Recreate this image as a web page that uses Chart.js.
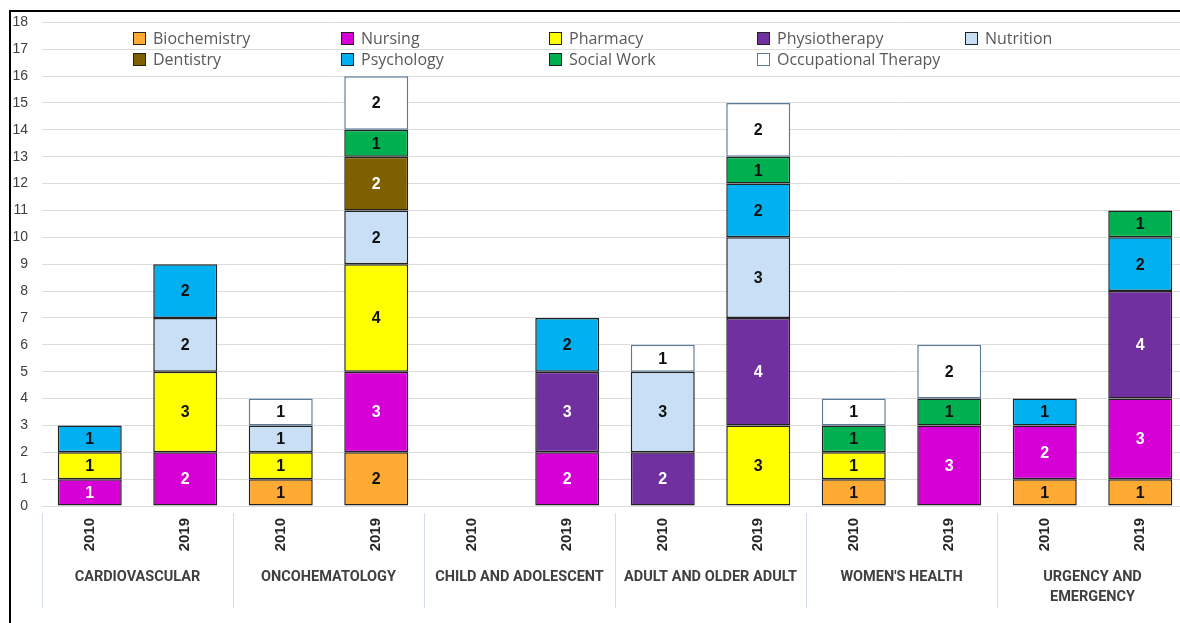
<!DOCTYPE html>
<html><head><meta charset="utf-8">
<script src="https://cdn.jsdelivr.net/npm/chart.js@4.4.1/dist/chart.umd.min.js"></script>
<style>
html,body{margin:0;padding:0;background:#fff;overflow:hidden;width:1180px;height:623px;}
#wrap{position:relative;width:1180px;height:623px;overflow:hidden;background:#fff;}
#frame{position:absolute;left:9px;top:10px;width:1300px;height:700px;border-left:2px solid #000;border-top:2px solid #000;}
#c{position:absolute;left:0;top:0;}
#legend{position:absolute;left:0;top:0;width:1180px;height:80px;pointer-events:none;font-family:'Open Sans',sans-serif;font-size:16px;color:#595959;}
.li{position:absolute;height:20px;line-height:20px;white-space:nowrap;display:flex;align-items:center;}
.sw{width:11px;height:11px;border:1px solid #333;margin-right:7px;box-sizing:content-box;}
</style></head><body>
<div id="wrap"><div id="frame"></div><canvas id="c" width="1200" height="623"></canvas><div id="legend"></div></div>
<script>
// ---- Data ----
const years = ['2010','2019','2010','2019','2010','2019','2010','2019','2010','2019','2010','2019'];
const groups = ['CARDIOVASCULAR','ONCOHEMATOLOGY','CHILD AND ADOLESCENT','ADULT AND OLDER ADULT',"WOMEN'S HEALTH",'URGENCY AND\nEMERGENCY'];
const seriesNames = ['Biochemistry','Nursing','Pharmacy','Physiotherapy','Nutrition','Dentistry','Psychology','Social Work','Occupational Therapy'];
const biochemistry        = [0,0,1,2,0,0,0,0,1,0,1,1];
const nursing             = [1,2,0,3,0,2,0,0,0,3,2,3];
const pharmacy            = [1,3,1,4,0,0,0,3,1,0,0,0];
const physiotherapy       = [0,0,0,0,0,3,2,4,0,0,0,4];
const nutrition           = [0,2,1,2,0,0,3,3,0,0,0,0];
const dentistry           = [0,0,0,2,0,0,0,0,0,0,0,0];
const psychology          = [1,2,0,0,0,2,0,2,0,0,1,2];
const socialWork          = [0,0,0,1,0,0,0,1,1,1,0,1];
const occupationalTherapy = [0,0,1,2,0,0,1,2,1,2,0,0];
const yTicks = [0,1,2,3,4,5,6,7,8,9,10,11,12,13,14,15,16,17,18];

// ---- Styles ----
const seriesValues = [biochemistry,nursing,pharmacy,physiotherapy,nutrition,dentistry,psychology,socialWork,occupationalTherapy];
const fills   = ['#FFAA33','#D600D6','#FFFF00','#7030A0','#C8DFF6','#7F6000','#00B0F0','#00B050','#FFFFFF'];
const borders = ['#222222','#222222','#222222','#222222','#222222','#222222','#222222','#222222','#5B7A99'];
const labelColors = ['#111','#fff','#111','#fff','#111','#fff','#111','#111','#111'];

const datasets = seriesNames.map((name,i)=>({
  label: name,
  data: seriesValues[i].map(v => v === 0 ? null : v),
  backgroundColor: fills[i],
  borderColor: borders[i],
  borderWidth: 1.5,
  inflateAmount: 0,
  borderSkipped: false,
  categoryPercentage: 1.0,
  barPercentage: 0.67,
  stack: 's'
}));

const valueLabels = {
  id: 'valueLabels',
  afterDatasetsDraw(chart) {
    const ctx = chart.ctx;
    ctx.save();
    ctx.font = 'bold 16px "Liberation Sans", Arial, sans-serif';
    ctx.textAlign = 'center';
    ctx.textBaseline = 'middle';
    chart.data.datasets.forEach((ds, di) => {
      const meta = chart.getDatasetMeta(di);
      meta.data.forEach((el, j) => {
        const v = ds.data[j];
        if (!v) return;
        ctx.fillStyle = labelColors[di];
        ctx.fillText(String(v), el.x, (el.y + el.base) / 2 + 1);
      });
    });
    ctx.restore();
  }
};

const separators = {
  id: 'separators',
  afterDraw(chart) {
    const xs = chart.scales.x;
    const ctx = chart.ctx;
    const n = years.length;
    const step = xs.width / n;
    ctx.save();
    ctx.strokeStyle = '#D3DEEA';
    ctx.lineWidth = 1;
    for (let i = 0; i <= n; i += 2) {
      const px = Math.round(xs.left + i * step) + 0.5;
      ctx.beginPath();
      ctx.moveTo(px, xs.top + 7);
      ctx.lineTo(px, 608);
      ctx.stroke();
    }
    ctx.restore();
  }
};

const chart = new Chart(document.getElementById('c'), {
  type: 'bar',
  data: { labels: years, datasets },
  options: {
    responsive: false,
    animation: false,
    devicePixelRatio: 1,
    layout: { padding: { top: 22, right: 12, left: 0, bottom: 0 } },
    plugins: { legend: { display: false }, tooltip: { enabled: false } },
    scales: {
      y: {
        stacked: true,
        min: 0, max: 18,
        afterBuildTicks: s => { s.ticks = yTicks.map(v => ({ value: v })); },
        afterFit: s => { s.width = 42; },
        border: { display: false },
        grid: { color: '#DCDCDC', lineWidth: 1, drawTicks: false },
        ticks: { padding: 14, color: '#404040', font: { family: '"Liberation Sans", Arial, sans-serif', size: 14 } }
      },
      x: {
        stacked: true,
        weight: 1,
        afterFit: s => { s.height = 60; },
        border: { display: false },
        grid: { display: false, drawTicks: false },
        ticks: { padding: 12, minRotation: 90, maxRotation: 90, autoSkip: false, color: '#262626',
                 font: { family: '"Liberation Sans", Arial, sans-serif', size: 15, weight: 'bold' } }
      },
      x2: {
        type: 'category',
        position: 'bottom',
        labels: groups,
        offset: true,
        weight: 2,
        afterFit: s => { s.height = 57; },
        border: { display: false },
        grid: { display: false, drawTicks: false },
        ticks: { padding: 2, maxRotation: 0, minRotation: 0, autoSkip: false, color: '#404040',
                 callback: function(v, i) { return groups[i].split('\n'); },
                 font: { family: 'Roboto, "DejaVu Sans Condensed", Arial, sans-serif', size: 14.5, weight: 'bold', lineHeight: 1.35 } }
      }
    }
  },
  plugins: [valueLabels, separators]
});

// ---- Legend (HTML, built from datasets) ----
const legendEl = document.getElementById('legend');
chart.data.datasets.forEach((ds, i) => {
  const col = i < 5 ? i : i - 5;
  const row = i < 5 ? 0 : 1;
  const item = document.createElement('div');
  item.className = 'li';
  item.style.left = (133 + col * 208) + 'px';
  item.style.top = (row === 0 ? 28 : 49) + 'px';
  const sw = document.createElement('span');
  sw.className = 'sw';
  sw.style.background = ds.backgroundColor;
  sw.style.borderColor = ds.borderColor;
  const tx = document.createElement('span');
  tx.textContent = ds.label;
  item.appendChild(sw); item.appendChild(tx);
  legendEl.appendChild(item);
});
</script>
</body></html>
